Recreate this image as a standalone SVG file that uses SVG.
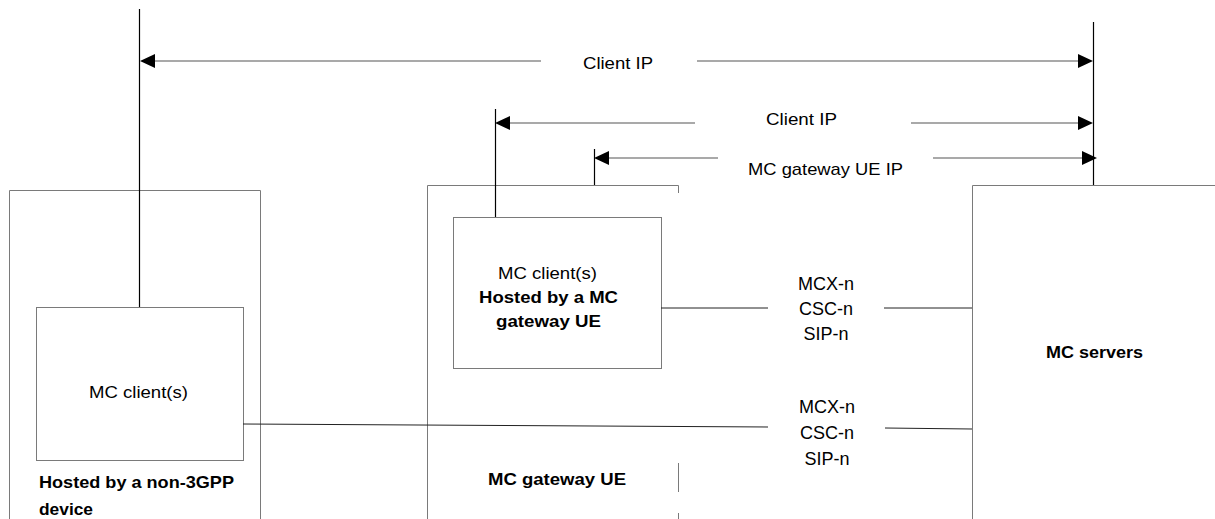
<svg xmlns="http://www.w3.org/2000/svg" width="1215" height="519" viewBox="0 0 1215 519">
<style>
.box{fill:none;stroke:#7a7a7a;stroke-width:1}
.vl{stroke:#000;stroke-width:1.2;fill:none}
.al{stroke:#8c8c8c;stroke-width:1.3;fill:none}
.cl{stroke:#222;stroke-width:1;fill:none}
.ah{fill:#000}
text{font-family:"Liberation Sans",Arial,sans-serif;font-size:17px;fill:#000}
.b{font-weight:bold}
.m{font-size:18px;text-anchor:middle}
</style>
<rect width="1215" height="519" fill="#fff"/>
<g id="non3gpp-device">
<path class="box" d="M9.5,519 V190.5 H260.5 V519"/>
<text class="b" x="39" y="488" textLength="195" lengthAdjust="spacingAndGlyphs">Hosted by a non-3GPP</text>
<text class="b" x="39" y="515" textLength="54" lengthAdjust="spacingAndGlyphs">device</text>
</g>
<g id="mc-client-left">
<rect class="box" x="36.5" y="307.5" width="207" height="153"/>
<text x="89" y="398" textLength="99" lengthAdjust="spacingAndGlyphs">MC client(s)</text>
</g>
<g id="mc-gateway-ue">
<path class="box" d="M427.5,519 V185.5 H678.5 V193"/>
<path class="box" d="M678.5,463 V492 M678.5,513 V519"/>
<text class="b" x="488" y="485" textLength="138" lengthAdjust="spacingAndGlyphs">MC gateway UE</text>
</g>
<g id="mc-client-gateway">
<rect class="box" x="453.5" y="217.5" width="208" height="151"/>
<text x="498" y="279" textLength="99" lengthAdjust="spacingAndGlyphs">MC client(s)</text>
<text class="b" x="479" y="303" textLength="139" lengthAdjust="spacingAndGlyphs">Hosted by a MC</text>
<text class="b" x="496" y="327" textLength="105" lengthAdjust="spacingAndGlyphs">gateway UE</text>
</g>
<g id="mc-servers">
<path class="box" d="M972.5,519 V185.5 H1215"/>
<text class="b" x="1046" y="358" textLength="97" lengthAdjust="spacingAndGlyphs">MC servers</text>
</g>
<g id="connectors">
<line class="vl" x1="139.5" y1="9" x2="139.5" y2="307"/>
<line class="vl" x1="1093.5" y1="22" x2="1093.5" y2="185"/>
<line class="vl" x1="495.5" y1="109" x2="495.5" y2="217"/>
<line class="vl" x1="594.5" y1="149" x2="594.5" y2="185"/>
<line class="al" x1="152" y1="61" x2="541" y2="61"/>
<line class="al" x1="697" y1="61" x2="1080" y2="61"/>
<polygon class="ah" points="140,61 155,54 155,68"/>
<polygon class="ah" points="1093,61 1078,54 1078,68"/>
<text x="583" y="69" textLength="70" lengthAdjust="spacingAndGlyphs">Client IP</text>
<line class="al" x1="508" y1="123" x2="695" y2="123"/>
<line class="al" x1="911" y1="123" x2="1080" y2="123"/>
<polygon class="ah" points="495,123 510,116 510,130"/>
<polygon class="ah" points="1093,123 1078,116 1078,130"/>
<text x="766" y="125" textLength="71" lengthAdjust="spacingAndGlyphs">Client IP</text>
<line class="al" x1="607" y1="158" x2="718" y2="158"/>
<line class="al" x1="933" y1="158" x2="1084" y2="158"/>
<polygon class="ah" points="594,158 609,151 609,165"/>
<polygon class="ah" points="1097,158 1082,151 1082,165"/>
<text x="748" y="175" textLength="155" lengthAdjust="spacingAndGlyphs">MC gateway UE IP</text>
<line class="cl" x1="661" y1="308" x2="768" y2="308"/>
<line class="cl" x1="884" y1="308" x2="972" y2="308"/>
<text class="m" x="826" y="290">MCX-n</text>
<text class="m" x="826" y="315">CSC-n</text>
<text class="m" x="826" y="340">SIP-n</text>
<line class="cl" x1="243" y1="424" x2="768" y2="427"/>
<line class="cl" x1="885" y1="428" x2="972" y2="429"/>
<text class="m" x="827" y="413">MCX-n</text>
<text class="m" x="827" y="439">CSC-n</text>
<text class="m" x="827" y="465">SIP-n</text>
</g>
</svg>
